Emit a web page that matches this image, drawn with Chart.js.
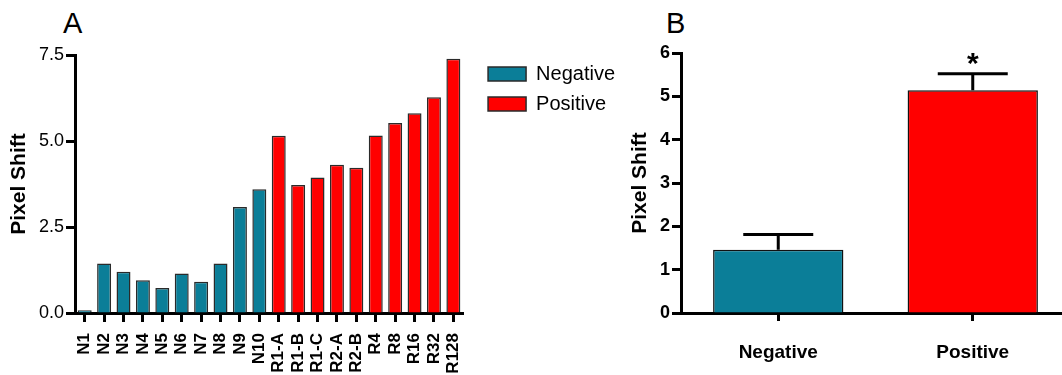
<!DOCTYPE html>
<html lang="en">
  <head>
    <meta charset="UTF-8" />
    <title>Pixel Shift</title>
    <style>
      body {
        margin: 0;
        width: 1062px;
        height: 375px;
        overflow: hidden;
        background: #fff;
        position: relative;
        font-family: "Liberation Sans", Arial, sans-serif;
      }
      .panel { position: absolute; top: 9px; font-size: 29px; line-height: 29px; color: #000; }
      #chartA { position: absolute; left: 0; top: 0; }
      #chartB { position: absolute; left: 600px; top: 0; }
    </style>
  </head>
  <body>
    <div class="panel" style="left: 63px">A</div>
    <div class="panel" style="left: 666px">B</div>
    <canvas id="chartA" width="640" height="375"></canvas>
    <canvas id="chartB" width="470" height="375"></canvas>

    <script src="https://cdn.jsdelivr.net/npm/chart.js"></script>
    <script>
      // panel A: every sample
      const labelsA = ["N1", "N2", "N3", "N4", "N5", "N6", "N7", "N8", "N9", "N10",
        "R1-A", "R1-B", "R1-C", "R2-A", "R2-B", "R4", "R8", "R16", "R32", "R128"];
      const shiftA = [0.08, 1.44, 1.2, 0.95, 0.73, 1.15, 0.91, 1.44, 3.08, 3.6,
        5.15, 3.72, 3.94, 4.31, 4.22, 5.16, 5.52, 5.81, 6.27, 7.39];
      const groupA = ["Negative", "Negative", "Negative", "Negative", "Negative",
        "Negative", "Negative", "Negative", "Negative", "Negative",
        "Positive", "Positive", "Positive", "Positive", "Positive",
        "Positive", "Positive", "Positive", "Positive", "Positive"];
      const ticksA = [0, 2.5, 5, 7.5];

      // panel B: group means with SEM
      const groupsB = ["Negative", "Positive"];
      const meanB = [1.46, 5.14];
      const semB = [0.35, 0.38];
      const markB = ["", "*"];

      const colors = { Negative: "#0b7e98", Positive: "#ff0000" };
      const FONT = '"Liberation Sans", Arial, sans-serif';

      Chart.defaults.font.family = FONT;
      Chart.defaults.color = "#000";
      Chart.defaults.animation = false;

      function tickGrid(len) {
        return {
          display: true,
          drawOnChartArea: false,
          drawTicks: true,
          offset: false,
          tickLength: len,
          tickWidth: 3,
          tickColor: "#000",
        };
      }
      const axisLine = { display: true, color: "#000", width: 3 };

      // move the legend a little away from the plot
      const nudgeLegend = {
        id: "nudgeLegend",
        afterLayout(chart) {
          const lg = chart.legend;
          const w = lg.width;
          lg.left = chart.chartArea.right + 15;
          lg.right = lg.left + w;
          lg.top = chart.chartArea.top - 1;
        },
      };

      new Chart(document.getElementById("chartA"), {
        type: "bar",
        data: {
          labels: labelsA,
          datasets: [
            {
              data: shiftA,
              backgroundColor: groupA.map((g) => colors[g]),
              borderColor: "#2a2a2a",
              borderWidth: 1.5,
              categoryPercentage: 1,
              barPercentage: 0.72,
            },
          ],
        },
        options: {
          responsive: false,
          layout: { padding: { top: 55, right: 30, left: 0, bottom: 0 } },
          plugins: {
            tooltip: { enabled: false },
            legend: {
              position: "right",
              align: "start",
              onClick: null,
              labels: {
                boxWidth: 38,
                boxHeight: 14,
                padding: 10,
                font: { size: 20 },
                color: "#000",
                generateLabels: () =>
                  Object.keys(colors).map((g) => ({
                    text: g,
                    fillStyle: colors[g],
                    strokeStyle: "#2a2a2a",
                    lineWidth: 1.5,
                  })),
              },
            },
          },
          scales: {
            x: {
              offset: true,
              grid: tickGrid(9),
              border: axisLine,
              ticks: {
                autoSkip: false,
                minRotation: 90,
                maxRotation: 90,
                padding: 11,
                font: { size: 17, weight: "bold" },
              },
              afterFit: (s) => { s.height = 62; },
            },
            y: {
              min: 0,
              max: 7.5,
              grid: tickGrid(9),
              border: axisLine,
              afterBuildTicks: (s) => { s.ticks = ticksA.map((v) => ({ value: v })); },
              ticks: {
                padding: 2,
                font: { size: 18 },
                callback: (v) => v.toFixed(1),
              },
              title: {
                display: true,
                text: "Pixel Shift",
                font: { size: 21, weight: "bold" },
                padding: { top: 7, bottom: 0 },
              },
              afterFit: (s) => { s.width = 75; },
            },
          },
        },
        plugins: [nudgeLegend],
      });

      // SEM bars and the significance star
      const errorBars = {
        id: "errorBars",
        afterDatasetsDraw(chart) {
          const { ctx } = chart;
          const y = chart.scales.y;
          const bars = chart.getDatasetMeta(0).data;
          ctx.save();
          ctx.strokeStyle = "#000";
          ctx.lineWidth = 3;
          bars.forEach((bar, i) => {
            const top = y.getPixelForValue(meanB[i] + semB[i]);
            const base = y.getPixelForValue(meanB[i]);
            ctx.beginPath();
            ctx.moveTo(bar.x, base);
            ctx.lineTo(bar.x, top);
            ctx.moveTo(bar.x - 35, top);
            ctx.lineTo(bar.x + 35, top);
            ctx.stroke();
            if (markB[i]) {
              ctx.fillStyle = "#000";
              ctx.font = "bold 30px " + FONT;
              ctx.textAlign = "center";
              ctx.textBaseline = "alphabetic";
              ctx.fillText(markB[i], bar.x, top - 1);
            }
          });
          ctx.restore();
        },
      };

      new Chart(document.getElementById("chartB"), {
        type: "bar",
        data: {
          labels: groupsB,
          datasets: [
            {
              data: meanB,
              backgroundColor: groupsB.map((g) => colors[g]),
              borderColor: "#111",
              borderWidth: 1.5,
              categoryPercentage: 1,
              barPercentage: 0.67,
            },
          ],
        },
        options: {
          responsive: false,
          layout: { padding: { top: 53, right: 0, left: 0, bottom: 0 } },
          plugins: {
            tooltip: { enabled: false },
            legend: { display: false },
          },
          scales: {
            x: {
              offset: true,
              grid: tickGrid(8),
              border: axisLine,
              ticks: { padding: 20, font: { size: 19, weight: "bold" } },
              afterFit: (s) => { s.height = 62; },
            },
            y: {
              min: 0,
              max: 6,
              grid: tickGrid(9),
              border: axisLine,
              ticks: { stepSize: 1, padding: 2, font: { size: 18, weight: "bold" } },
              title: {
                display: true,
                text: "Pixel Shift",
                font: { size: 21, weight: "bold" },
                padding: { top: 28, bottom: 0 },
              },
              afterFit: (s) => { s.width = 81; },
            },
          },
        },
        plugins: [errorBars],
      });
    </script>
  </body>
</html>
